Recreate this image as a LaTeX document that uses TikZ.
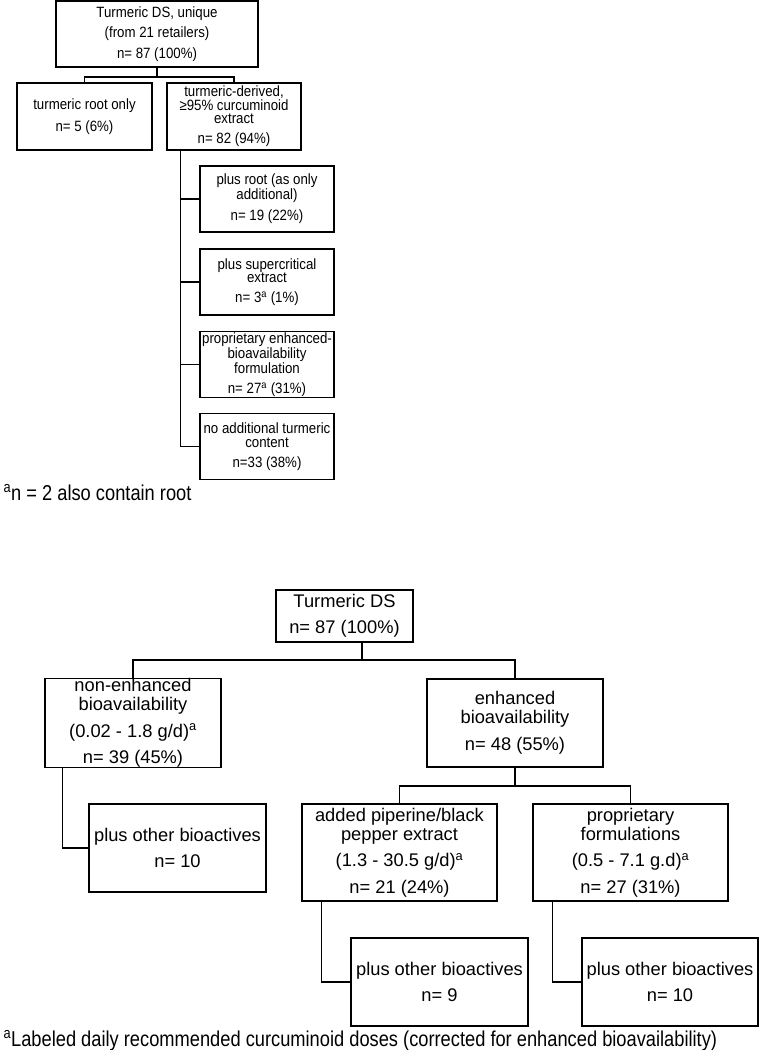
\documentclass[tikz,border=0pt]{standalone}
\usepackage{fontspec}
\setmainfont{Liberation Sans}
\newfontfamily\narrowfont[FakeStretch=0.89]{Liberation Sans}
\newfontfamily\notefont[FakeStretch=0.85]{Liberation Sans}
\usepackage{tikz}

\begin{document}
\begin{tikzpicture}[x=1pt,y=-1pt,
    box/.style={draw, line width=1.5pt, align=center, inner sep=0pt},
    topbox/.style={box, font=\narrowfont\fontsize{14.9}{13.5}\selectfont},
    botbox/.style={box, font=\fontsize{18.3}{19}\selectfont},
    link/.style={line width=1.5pt},
    note/.style={anchor=base west, font=\notefont\fontsize{21.5}{22}\selectfont}]
              \useasboundingbox (0,0) rectangle (773,1050);

              % first chart
              \node[topbox, minimum width=202pt, minimum height=66pt] (root) at (157,34)
                {Turmeric DS, unique\\[5.5pt](from 21 retailers)\\[5.5pt]n= 87 (100\%)};
              \node[topbox, minimum width=135pt, minimum height=67pt] (rootonly) at (84.5,116.5)
                {turmeric root only\\[6.5pt]n= 5 (6\%)};
              \node[topbox, minimum width=134pt, minimum height=67pt] (extract) at (234,116.5)
                {turmeric-derived,\\≥95\% curcuminoid\\extract\\[6.5pt]n= 82 (94\%)};
              \node[topbox, minimum width=134pt, minimum height=66pt] (plusroot) at (267,199)
                {plus root (as only\\additional)\\[6.5pt]n= 19 (22\%)};
              \node[topbox, minimum width=134pt, minimum height=66pt] (superc) at (267,282)
                {plus supercritical\\extract\\[6.5pt]n= 3\textsuperscript{a} (1\%)};
              \node[topbox, minimum width=134pt, minimum height=66pt] (propform) at (267,364.5)
                {proprietary enhanced-\\bioavailability\\formulation\\[6.5pt]n= 27\textsuperscript{a} (31\%)};
              \node[topbox, minimum width=134pt, minimum height=66pt] (noadd) at (267,446.5)
                {no additional turmeric\\content\\[6.5pt]n=33 (38\%)};

              \coordinate (bar1) at (0,77);
              \draw[link] (root.south) -- (root.south |- bar1);
              \draw[link] (rootonly.north) |- (root.south |- bar1) -| (extract.north);
              \coordinate (trunk) at ([xshift=14pt]extract.south west);
              \draw[link] (trunk) |- (noadd.west);
              \foreach \b in {plusroot,superc,propform}
                \draw[link] (trunk |- \b.west) -- (\b.west);

              \node[note] (note1) at (0,500)
                {\textsuperscript{a}n = 2 also contain root};

              % second chart
              \node[botbox, minimum width=137pt, minimum height=52pt] (ds) at (344.5,616)
                {Turmeric DS\\[7.5pt]n= 87 (100\%)};
              \node[botbox, minimum width=176pt, minimum height=88pt] (nonenh) at (133,723)
                {non-enhanced\\bioavailability\\[7.5pt](0.02 - 1.8 g/d)\textsuperscript{a}\\[7.5pt]n= 39 (45\%)};
              \node[botbox, minimum width=176pt, minimum height=88pt] (enh) at (515,723)
                {enhanced\\bioavailability\\[7.5pt]n= 48 (55\%)};
              \node[botbox, minimum width=177pt, minimum height=88pt] (nonplus) at (177.5,848)
                {plus other bioactives\\[7.5pt]n= 10};
              \node[botbox, minimum width=195pt, minimum height=97pt] (piper) at (399.5,852.5)
                {added piperine/black\\pepper extract\\[7.5pt](1.3 - 30.5 g/d)\textsuperscript{a}\\[7.5pt]n= 21 (24\%)};
              \node[botbox, minimum width=195pt, minimum height=97pt] (propr) at (630.5,852.5)
                {proprietary\\formulations\\[7.5pt](0.5 - 7.1 g.d)\textsuperscript{a}\\[7.5pt]n= 27 (31\%)};
              \node[botbox, minimum width=177pt, minimum height=88pt] (piperplus) at (439.5,982)
                {plus other bioactives\\[7.5pt]n= 9};
              \node[botbox, minimum width=176pt, minimum height=88pt] (proprplus) at (670,982)
                {plus other bioactives\\[7.5pt]n= 10};

              \coordinate (bar2) at (0,660);
              \coordinate (dsstem) at ([xshift=17.5pt]ds.south);
              \draw[link] (dsstem) -- (dsstem |- bar2);
              \draw[link] (nonenh.north) |- (dsstem |- bar2) -| (enh.north);
              \coordinate (bar3) at (0,786);
              \draw[link] (enh.south) -- (enh.south |- bar3);
              \draw[link] (piper.north) |- (enh.south |- bar3) -| (propr.north);
              \draw[link] ([xshift=18pt]nonenh.south west) |- (nonplus.west);
              \draw[link] ([xshift=20pt]piper.south west) |- (piperplus.west);
              \draw[link] ([xshift=20pt]propr.south west) |- (proprplus.west);

              \node[note] (note2) at (0,1046)
                {\textsuperscript{a}Labeled daily recommended curcuminoid doses (corrected for enhanced bioavailability)};
             \end{tikzpicture}
\end{document}
